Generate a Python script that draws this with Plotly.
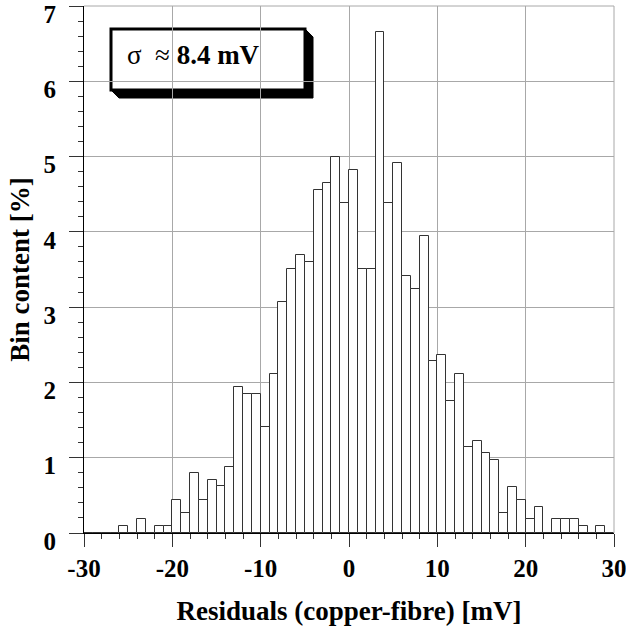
import numpy as np
import plotly.graph_objects as go

# histogram of residuals, 1 mV bins from -30 to 30
bin_centers = np.arange(-29.5, 30, 1.0)
bin_content = [
    0, 0, 0, 0, 0.09, 0, 0.19, 0, 0.09, 0.09,          # -30 .. -21
    0.44, 0.27, 0.80, 0.44, 0.70, 0.62, 0.88, 1.94, 1.85, 1.85,   # -20 .. -11
    1.41, 2.11, 3.07, 3.51, 3.69, 3.60, 4.56, 4.65, 4.99, 4.39,   # -10 .. -1
    4.82, 3.51, 3.51, 6.66, 4.39, 4.91, 3.42, 3.24, 3.94, 2.28,   # 0 .. 9
    2.36, 1.75, 2.11, 1.14, 1.22, 1.06, 0.97, 0.26, 0.61, 0.44,   # 10 .. 19
    0.18, 0.35, 0, 0.18, 0.18, 0.18, 0.09, 0, 0.09, 0,           # 20 .. 29
]
x_ticks = [-30, -20, -10, 0, 10, 20, 30]
x_ticklabels = ["-30", "-20", "-10", "0", "10", "20", "30"]
y_ticks = [0, 1, 2, 3, 4, 5, 6, 7]

W, H = 626, 632
L, R, T, B = 84, 12, 6, 99
pw, ph = W - L - R, H - T - B


def px(x, y):
    # pixel -> paper coords
    return (x - L) / pw, (H - B - y) / ph


fig = go.Figure(go.Bar(
    x=bin_centers, y=bin_content, width=1.0,
    marker=dict(color="white", line=dict(color="#333333", width=1)),
))

font = "Liberation Serif"
grid = "#a8a8a8"

fig.update_xaxes(
    range=[-30, 30], tickvals=x_ticks, ticktext=x_ticklabels,
    showgrid=True, gridcolor=grid, gridwidth=1, automargin=False,
    zeroline=False, showline=True, linecolor="black", linewidth=1,
    ticks="outside", ticklen=13, tickcolor="#333333", tickwidth=1,
    minor=dict(dtick=2, ticks="outside", ticklen=5, tickcolor="#333333", showgrid=False),
    tickfont=dict(family=font, size=25, color="black", weight="bold"),
    ticklabelstandoff=0, ticklabeloverflow="allow",
    title=dict(text="Residuals (copper-fibre) [mV]", standoff=20,
               font=dict(family=font, size=27, color="black", weight="bold")),
)
fig.update_yaxes(
    range=[0, 7], tickvals=y_ticks, showgrid=True, gridcolor=grid, gridwidth=1,
    automargin=False,
    zeroline=False, showline=True, linecolor="black", linewidth=1,
    ticks="outside", ticklen=14, tickcolor="#333333", tickwidth=1,
    minor=dict(dtick=0.2, ticks="outside", ticklen=5, tickcolor="#333333", showgrid=False),
    tickfont=dict(family=font, size=25, color="black", weight="bold"),
    ticklabelstandoff=8, ticklabelshift=8, ticklabeloverflow="allow",
    title=dict(text="Bin content [%]", standoff=6,
               font=dict(family=font, size=27, color="black", weight="bold")),
)

shapes = []
# gray frame on top and right
shapes.append(dict(type="line", xref="paper", yref="paper", x0=0, x1=1, y0=1, y1=1,
                   line=dict(color=grid, width=1)))
shapes.append(dict(type="line", xref="paper", yref="paper", x0=1, x1=1, y0=0, y1=1,
                   line=dict(color=grid, width=1)))

# sigma box with drop shadow
bl, br, bt, bb, d = 111, 305, 29, 90, 8
pts = [(br, bt), (br + d, bt + d), (br + d, bb + d), (bl + d, bb + d), (bl, bb)]
path = "M " + " L ".join("%.4f,%.4f" % px(x, y) for x, y in pts) + " Z"
shapes.append(dict(type="path", xref="paper", yref="paper", path=path,
                   fillcolor="black", line=dict(color="black", width=1), layer="below"))
x0, y0 = px(bl, bb)
x1, y1 = px(br, bt)
shapes.append(dict(type="rect", xref="paper", yref="paper", x0=x0, x1=x1, y0=y0, y1=y1,
                   fillcolor="white", line=dict(color="black", width=3), layer="below"))

tx, ty = px(125, 55)
fig.add_annotation(
    xref="paper", yref="paper", x=tx, y=ty, xanchor="left", yanchor="middle",
    text="σ  ≈ <b>8.4 mV</b>", showarrow=False,
    font=dict(family=font, size=27, color="black"),
)

fig.update_layout(
    width=W, height=H, margin=dict(l=L, r=R, t=T, b=B),
    plot_bgcolor="white", paper_bgcolor="white",
    showlegend=False, bargap=0, shapes=shapes,
)

# page body has a default 8px margin; drop it so the figure fills the window
fig.write_html("out.html", config={"displayModeBar": False},
               post_script="document.body.style.margin='0';")
